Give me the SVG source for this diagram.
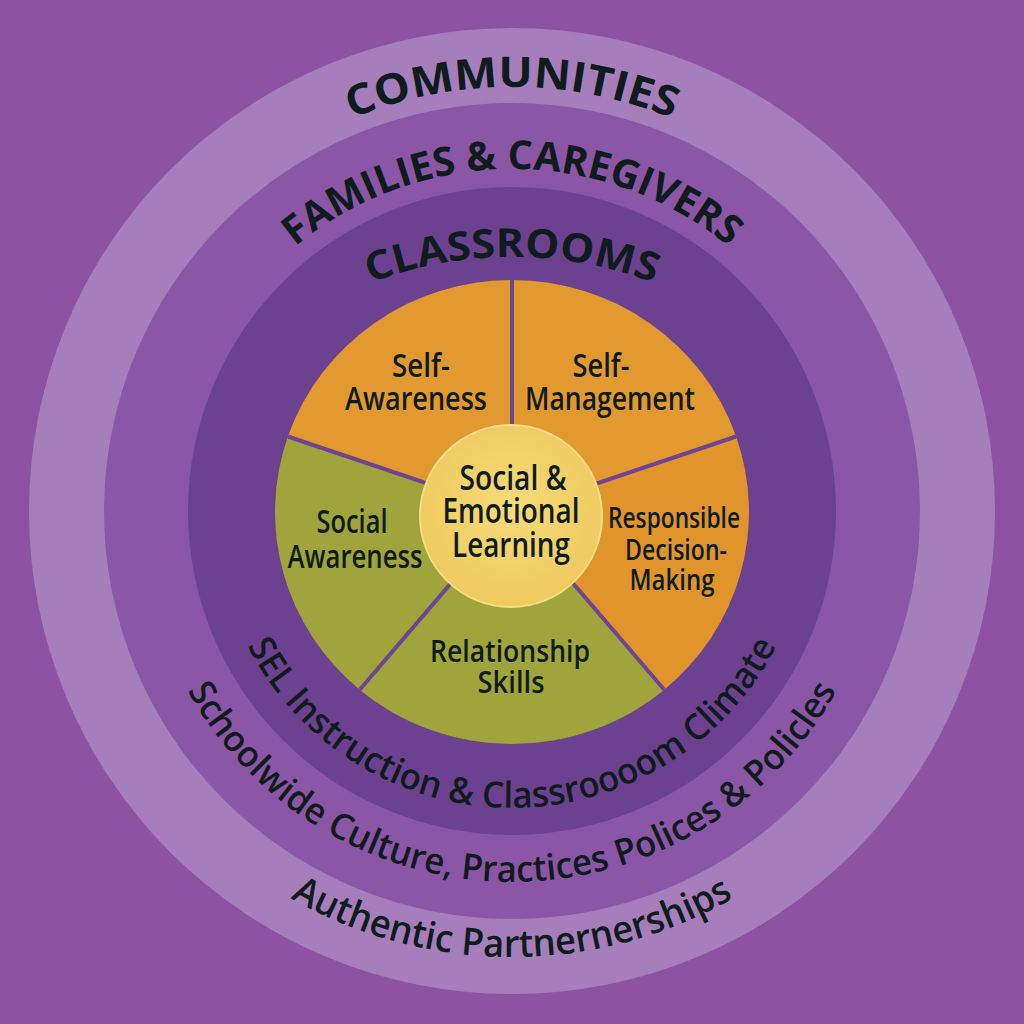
<svg xmlns="http://www.w3.org/2000/svg" width="1024" height="1024" viewBox="0 0 1024 1024">
<defs>
<style>
.t{font-family:"Open Sans","Noto Sans","DejaVu Sans",sans-serif;fill:#0f1c1d}
.cap{font-weight:700;text-anchor:middle}
.arc{font-weight:600;text-anchor:middle}
.lbl{font-weight:600;text-anchor:middle}
.div{stroke:#6E4593;stroke-width:4;fill:none}
</style>
<radialGradient id="selg" cx="50%" cy="45%" r="55%">
<stop offset="0" stop-color="#F6DA7A"/>
<stop offset="1" stop-color="#EFCA5E"/>
</radialGradient>
<path id="pComm" d="M88,511 A424,424 0 0 1 936,511"/>
<path id="pFam" d="M170,511 A342,342 0 0 1 854,511"/>
<path id="pCls" d="M112,657 A400,400 0 0 1 912,657"/>
<path id="pSel" d="M215,511 A297,297 0 0 0 809,511"/>
<path id="pSch" d="M141,511 A371,371 0 0 0 883,511"/>
<path id="pAut" d="M66,511 A446,446 0 0 0 958,511"/>
</defs>
<rect width="1024" height="1024" fill="#8D52A1"/>
<g id="rings">
<circle id="ring-communities" cx="512" cy="511" r="483" fill="#A67EBC"/>
<circle id="ring-families" cx="512" cy="511" r="408" fill="#8B56A6"/>
<circle id="ring-classrooms" cx="512" cy="511" r="324" fill="#6C4290"/>
</g>
<g id="pie">
<path id="seg-self-awareness" d="M512,512 L287.9,436.5 A237,232 0 0 1 512,280 Z" fill="#E29A30"/>
<path id="seg-self-management" d="M512,512 L512,280 A237,232 0 0 1 736.1,436.5 Z" fill="#E29A30"/>
<path id="seg-responsible" d="M512,512 L736.1,436.5 A237,232 0 0 1 664.3,689.7 Z" fill="#E0942B"/>
<path id="seg-relationship" d="M512,512 L664.3,689.7 A237,232 0 0 1 359.7,689.7 Z" fill="#A0A43C"/>
<path id="seg-social-awareness" d="M512,512 L359.7,689.7 A237,232 0 0 1 287.9,436.5 Z" fill="#A0A43C"/>
</g>
<g id="connectors">
<line class="div" x1="512" y1="512" x2="512" y2="280"/>
<line class="div" x1="512" y1="512" x2="287.9" y2="436.5"/>
<line class="div" x1="512" y1="512" x2="736.1" y2="436.5"/>
<line class="div" x1="512" y1="512" x2="664.3" y2="689.7"/>
<line class="div" x1="512" y1="512" x2="359.7" y2="689.7"/>
</g>
<g id="center">
<circle cx="511" cy="516" r="91" fill="url(#selg)" stroke="#F5DC88" stroke-width="2"/>
<text class="t lbl" font-size="35" x="513" y="490" textLength="107" lengthAdjust="spacingAndGlyphs">Social &amp;</text>
<text class="t lbl" font-size="35" x="511" y="523" textLength="137" lengthAdjust="spacingAndGlyphs">Emotional</text>
<text class="t lbl" font-size="35" x="511" y="557" textLength="118" lengthAdjust="spacingAndGlyphs">Learning</text>
</g>
<g id="node-self-awareness">
<text class="t lbl" font-size="32" x="421" y="377" textLength="58" lengthAdjust="spacingAndGlyphs">Self-</text>
<text class="t lbl" font-size="32" x="416" y="410" textLength="142" lengthAdjust="spacingAndGlyphs">Awareness</text>
</g>
<g id="node-self-management">
<text class="t lbl" font-size="32" x="601" y="377" textLength="57" lengthAdjust="spacingAndGlyphs">Self-</text>
<text class="t lbl" font-size="32" x="610" y="410" textLength="170" lengthAdjust="spacingAndGlyphs">Management</text>
</g>
<g id="node-responsible">
<text class="t lbl" font-size="29" x="674" y="528" textLength="132" lengthAdjust="spacingAndGlyphs">Responsible</text>
<text class="t lbl" font-size="29" x="676" y="560" textLength="102" lengthAdjust="spacingAndGlyphs">Decision-</text>
<text class="t lbl" font-size="29" x="672" y="590" textLength="85" lengthAdjust="spacingAndGlyphs">Making</text>
</g>
<g id="node-relationship">
<text class="t lbl" font-size="31" x="510" y="662" textLength="160" lengthAdjust="spacingAndGlyphs">Relationship</text>
<text class="t lbl" font-size="31" x="511" y="693" textLength="67" lengthAdjust="spacingAndGlyphs">Skills</text>
</g>
<g id="node-social-awareness">
<text class="t lbl" font-size="32" x="352" y="533" textLength="71" lengthAdjust="spacingAndGlyphs">Social</text>
<text class="t lbl" font-size="32" x="355" y="568" textLength="135" lengthAdjust="spacingAndGlyphs">Awareness</text>
</g>
<g id="ring-labels">
<text class="t cap" font-size="42"><textPath href="#pComm" startOffset="50%" textLength="329" lengthAdjust="spacingAndGlyphs">COMMUNITIES</textPath></text>
<text class="t cap" font-size="40"><textPath href="#pFam" startOffset="50%" textLength="470" lengthAdjust="spacingAndGlyphs">FAMILIES &amp; CAREGIVERS</textPath></text>
<text class="t cap" font-size="40"><textPath href="#pCls" startOffset="50%" textLength="290" lengthAdjust="spacingAndGlyphs">CLASSROOMS</textPath></text>
<text class="t arc" font-size="36"><textPath href="#pSel" startOffset="50%" textLength="653" lengthAdjust="spacingAndGlyphs">SEL Instruction &amp; Classroooom Climate</textPath></text>
<text class="t arc" font-size="36"><textPath href="#pSch" startOffset="50%" textLength="790" lengthAdjust="spacingAndGlyphs">Schoolwide Culture, Practices Polices &amp; Policles</textPath></text>
<text class="t arc" font-size="38"><textPath href="#pAut" startOffset="50%" textLength="464" lengthAdjust="spacingAndGlyphs">Authentic Partnernerships</textPath></text>
</g>
</svg>
